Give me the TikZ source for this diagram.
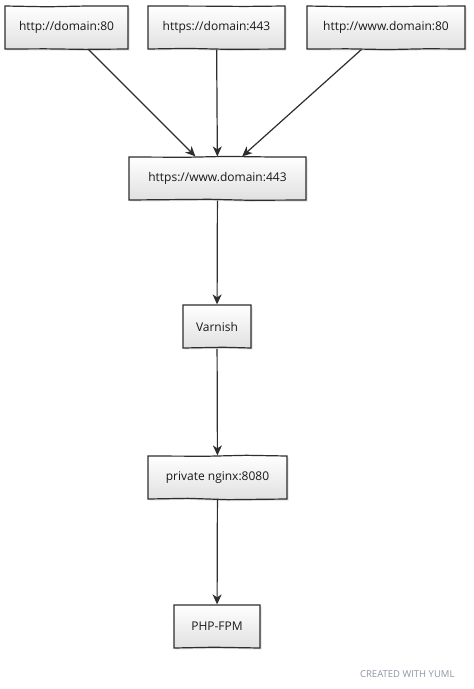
\documentclass[tikz,border=0pt]{standalone}
\usepackage{fontspec}
\setmainfont{Open Sans}
\usetikzlibrary{arrows.meta,shadows,decorations.pathmorphing}
\definecolor{edge}{HTML}{2E2E2E}
\definecolor{mark}{HTML}{8C96A8}
\tikzset{
  box/.style={draw=edge, line width=1.2pt, top color=white, bottom color=black!12,
    minimum height=43pt, inner sep=0pt, font=\fontsize{12}{14}\selectfont, text=black!90,
    drop shadow={shadow xshift=1.5pt, shadow yshift=-1.5pt, opacity=0.25},
    decorate, decoration={random steps, segment length=40pt, amplitude=0.8pt}},
  link/.style={draw=edge, line width=1.2pt, -{Stealth[length=10pt,width=9pt,inset=3pt]}}
}
\pgfmathsetseed{7}
\begin{document}
\begin{tikzpicture}[x=1pt,y=-1pt]
\useasboundingbox[fill=white] (0,0) rectangle (474,689);
\node[box, minimum width=123pt] (b1) at (66.5,27.5) {http://domain:80};
\node[box, minimum width=137pt] (b2) at (216.5,27.5) {https://domain:443};
\node[box, minimum width=158pt] (b3) at (386,27.5) {http://www.domain:80};
\node[box, minimum width=177pt] (b4) at (217.5,178.5) {https://www.domain:443};
\node[box, minimum width=68pt] (v) at (217,326.5) {Varnish};
\node[box, minimum width=139pt] (n) at (217.5,477.5) {private nginx:8080};
\node[box, minimum width=86pt] (p) at (217,626.5) {PHP-FPM};
\node[font=\fontsize{9.5}{11}\selectfont, text=mark, anchor=east] (wm) at (458,674) {CREATED WITH YUML};
\draw[link] (b1) -- (b4);
\draw[link] (b2) -- (b4);
\draw[link] (b3) -- (b4);
\draw[link] (b4) -- (v);
\draw[link] (v) -- (n);
\draw[link] (n) -- (p);
\end{tikzpicture}
\end{document}
